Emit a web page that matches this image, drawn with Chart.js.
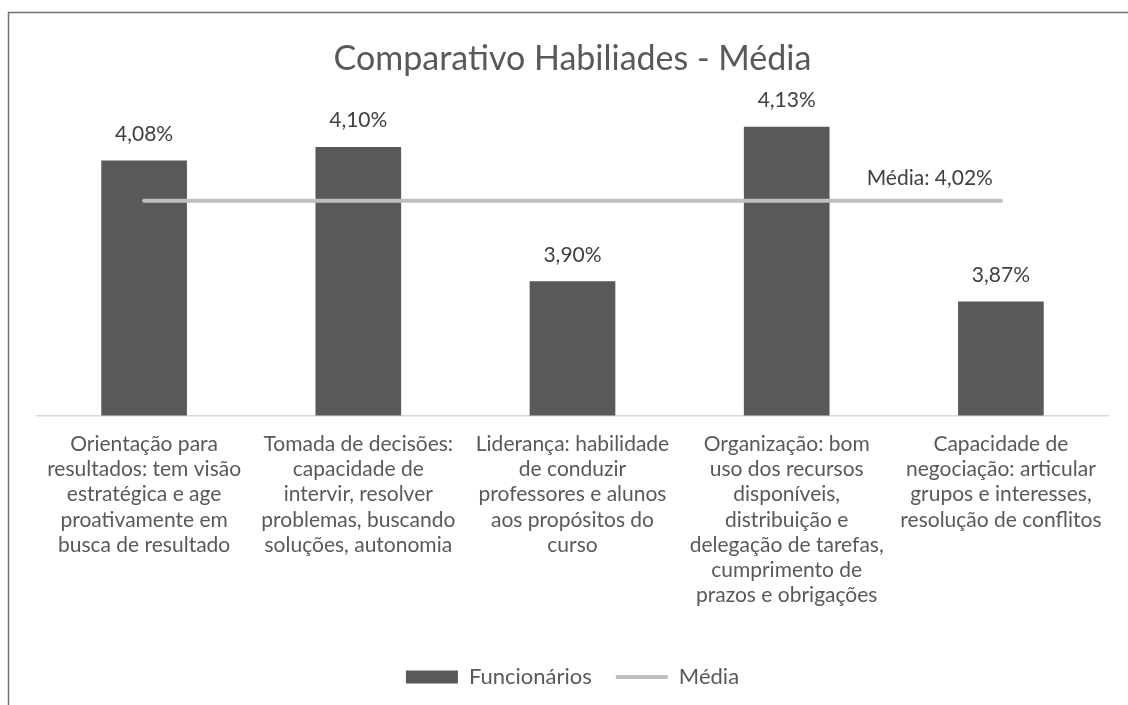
<!DOCTYPE html>
<html lang="pt">
<head>
    <meta charset="UTF-8">
    <title>Comparativo Habiliades - Média</title>
    <script src="https://cdn.jsdelivr.net/npm/chart.js"></script>
    <style>
        html, body { margin: 0; padding: 0; background: #fff; }
        #wrap { position: relative; width: 1128px; height: 705px; }
    </style>
</head>
<body>
    <div id="wrap"><canvas id="chart"></canvas></div>
    <script>
        const categories = [
            ["Orientação para", "resultados: tem visão", "estratégica e age", "proativamente em", "busca de resultado"],
            ["Tomada de decisões:", "capacidade de", "intervir, resolver", "problemas, buscando", "soluções, autonomia"],
            ["Liderança: habilidade", "de conduzir", "professores e alunos", "aos propósitos do", "curso"],
            ["Organização: bom", "uso dos recursos", "disponíveis,", "distribuição e", "delegação de tarefas,", "cumprimento de", "prazos e obrigações"],
            ["Capacidade de", "negociação: articular", "grupos e interesses,", "resolução de conflitos"]
        ];
        const funcionarios = [4.08, 4.10, 3.90, 4.13, 3.87];
        const media = [4.02, 4.02, 4.02, 4.02, 4.02];
        const mediaLabel = "Média: 4,02%";

        function fmt(v) {
            return v.toFixed(2).replace(".", ",") + "%";
        }

        // thin frame: only top and left edges are visible in the picture
        const framePlugin = {
            id: "frame",
            beforeDraw(chart) {
                const ctx = chart.ctx;
                ctx.save();
                ctx.strokeStyle = "#6f6f6f";
                ctx.lineWidth = 1.5;
                ctx.beginPath();
                ctx.moveTo(8.5, 705);
                ctx.lineTo(8.5, 12.5);
                ctx.lineTo(1128, 12.5);
                ctx.stroke();
                ctx.restore();
            }
        };

        const labelsPlugin = {
            id: "valueLabels",
            afterDatasetsDraw(chart) {
                const ctx = chart.ctx;
                ctx.save();
                ctx.font = "21px Lato";
                ctx.fillStyle = "#404040";
                ctx.textAlign = "center";
                ctx.textBaseline = "bottom";
                chart.getDatasetMeta(0).data.forEach((bar, i) => {
                    ctx.fillText(fmt(funcionarios[i]), bar.x, bar.y - 16);
                });
                const pts = chart.getDatasetMeta(1).data;
                const last = pts[pts.length - 1];
                ctx.textAlign = "right";
                ctx.fillText(mediaLabel, last.x - 8, last.y - 12);
                ctx.restore();
            }
        };

        new Chart(document.getElementById("chart"), {
            type: "bar",
            data: {
                labels: categories,
                datasets: [{
                    type: "bar",
                    label: "Funcionários",
                    data: funcionarios,
                    backgroundColor: "#595959",
                    barPercentage: 0.4,
                    categoryPercentage: 1,
                    pointStyle: "rect",
                    order: 2
                }, {
                    type: "line",
                    label: "Média",
                    data: media,
                    borderColor: "#bfbfbf",
                    backgroundColor: "#bfbfbf",
                    borderWidth: 4,
                    borderCapStyle: "round",
                    pointRadius: 0,
                    pointStyle: "line",
                    order: 1
                }]
            },
            options: {
                responsive: true,
                maintainAspectRatio: false,
                animation: false,
                layout: { padding: { left: 37, right: 20, top: 0, bottom: 7 } },
                plugins: {
                    title: {
                        display: true,
                        text: "Comparativo Habiliades - Média",
                        color: "#595959",
                        font: { family: "Lato", size: 34, weight: "normal" },
                        padding: { top: 39, bottom: 0 }
                    },
                    legend: {
                        position: "bottom",
                        labels: {
                            usePointStyle: true,
                            pointStyleWidth: 52,
                            boxHeight: 13,
                            padding: 24,
                            color: "#595959",
                            font: { family: "Lato", size: 22 },
                            sort: (a, b) => a.datasetIndex - b.datasetIndex
                        }
                    },
                    tooltip: { enabled: false }
                },
                scales: {
                    x: {
                        grid: { display: false },
                        border: { color: "#d9d9d9", width: 1.5 },
                        ticks: {
                            color: "#595959",
                            font: { family: "Lato", size: 21, lineHeight: 1.2 },
                            maxRotation: 0,
                            autoSkip: false,
                            padding: 8
                        },
                        afterFit(axis) {
                            axis.height += 26;
                        }
                    },
                    y: {
                        display: false,
                        min: 3.7,
                        max: 4.2
                    }
                }
            },
            plugins: [framePlugin, labelsPlugin]
        });
    </script>
</body>
</html>
